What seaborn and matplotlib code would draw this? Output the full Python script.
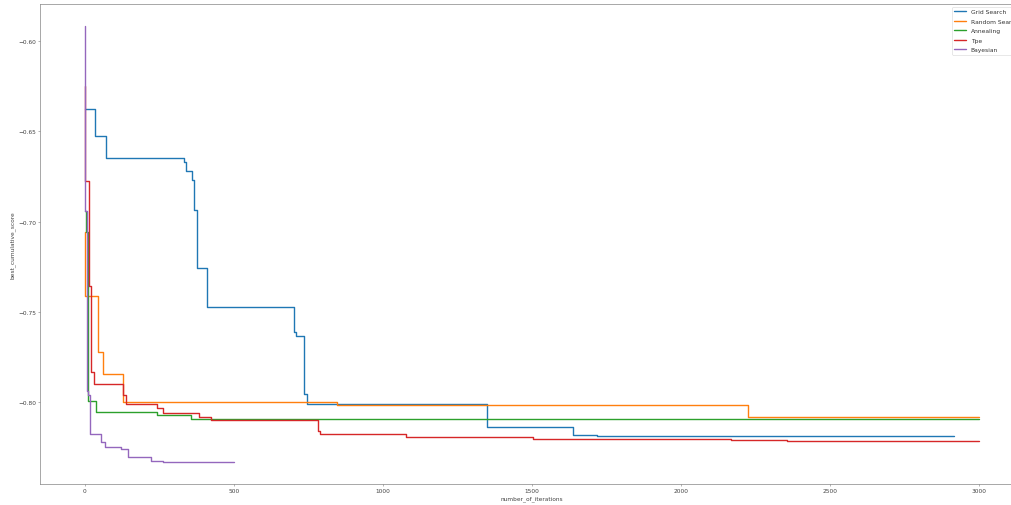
import numpy as np
import pandas as pd
import matplotlib
matplotlib.use("Agg")
import matplotlib.pyplot as plt
import seaborn as sns

# best cumulative score per optimiser, stored as change points (iteration, value)
grid_iter = [0, 32, 69, 331, 339, 358, 367, 375, 410, 700, 707, 736, 745, 1348, 1637, 1719, 2915]
grid_score = [-0.6377, -0.6528, -0.6650, -0.6668, -0.6721, -0.6771, -0.6934, -0.7255, -0.7475,
              -0.7613, -0.7632, -0.7956, -0.8012, -0.8136, -0.8183, -0.8189, -0.8189]

random_iter = [0, 1, 44, 61, 126, 845, 2224, 3000]
random_score = [-0.7059, -0.7414, -0.7724, -0.7846, -0.8000, -0.8019, -0.8084, -0.8084]

anneal_iter = [0, 3, 9, 38, 240, 356, 3000]
anneal_score = [-0.6940, -0.7059, -0.7992, -0.8054, -0.8071, -0.8095, -0.8095]

tpe_iter = [0, 1, 14, 15, 19, 30, 126, 137, 243, 263, 382, 423, 753, 783, 789, 1077, 1502, 2167, 2357, 3000]
tpe_score = [-0.6250, -0.6773, -0.6875, -0.7355, -0.7835, -0.7899, -0.7960, -0.8010, -0.8032, -0.8060,
             -0.8084, -0.8097, -0.8100, -0.8158, -0.8176, -0.8191, -0.8202, -0.8211, -0.8216, -0.8216]

bayes_iter = [0, 1, 8, 10, 17, 53, 66, 121, 143, 221, 261, 500]
bayes_score = [-0.5915, -0.6940, -0.7936, -0.7960, -0.8176, -0.8222, -0.8250, -0.8259, -0.8302,
               -0.8324, -0.8333, -0.8333]

methods = ["Grid Search", "Random Search", "Annealing", "Tpe", "Bayesian"]
series = [(grid_iter, grid_score), (random_iter, random_score), (anneal_iter, anneal_score),
          (tpe_iter, tpe_score), (bayes_iter, bayes_score)]

sns.set_style("ticks")
plt.rcParams.update({
    "font.family": ["DejaVu Sans"],
    "font.size": 4.2,
    "axes.linewidth": 0.45,
    "axes.edgecolor": "#777777",
    "xtick.major.size": 1.5,
    "ytick.major.size": 1.5,
    "xtick.major.width": 0.4,
    "ytick.major.width": 0.4,
    "xtick.major.pad": 1.5,
    "ytick.major.pad": 1.5,
    "xtick.color": "#777777",
    "ytick.color": "#777777",
    "xtick.labelcolor": "#444444",
    "ytick.labelcolor": "#444444",
    "axes.labelcolor": "#444444",
    "text.color": "#333333",
})

colors = sns.color_palette("tab10", 5)

fig = plt.figure(figsize=(10.12, 5.06), dpi=100)
# axes runs slightly past the right edge like the original (cropped) figure
ax = fig.add_axes([0.0398, 0.0415, 0.9718, 0.949])

for name, (it, sc), c in zip(methods, series, colors):
    df = pd.DataFrame({"number_of_iterations": it, "best_cumulative_score": sc})
    sns.lineplot(data=df, x="number_of_iterations", y="best_cumulative_score", ax=ax,
                 drawstyle="steps-post", color=c, linewidth=1.0, label=name, estimator=None)

ax.set_xticks(np.arange(0, 3001, 500))
ax.set_yticks([-0.80, -0.75, -0.70, -0.65, -0.60])
ax.set_xlabel("number_of_iterations", labelpad=1.8)
ax.set_ylabel("best_cumulative_score", labelpad=1.8)

leg = ax.legend(loc="upper right", fontsize=4.3, frameon=True, borderaxespad=0.5,
                labelspacing=0.72, handlelength=2.0)
leg.get_frame().set_linewidth(0.4)
for line in leg.get_lines():
    line.set_linewidth(1.0)

fig.savefig("out.png", dpi=100)
plt.close(fig)
